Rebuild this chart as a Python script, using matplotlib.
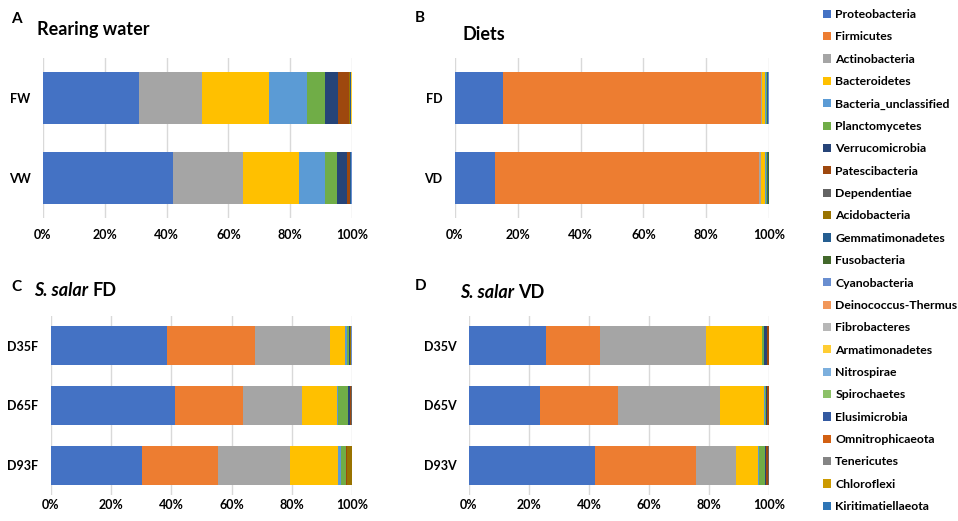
#!/usr/bin/env python3
"""Stacked phylum composition bars: rearing water, diets, S. salar FD/VD."""

import matplotlib
matplotlib.use('Agg')
import matplotlib.pyplot as plt
from matplotlib.patches import Patch

plt.rcParams['font.family'] = ['Lato', 'DejaVu Sans']
plt.rcParams['font.weight'] = 'bold'

phyla = ['Proteobacteria', 'Firmicutes', 'Actinobacteria', 'Bacteroidetes',
         'Bacteria_unclassified', 'Planctomycetes', 'Verrucomicrobia',
         'Patescibacteria', 'Dependentiae', 'Acidobacteria', 'Gemmatimonadetes',
         'Fusobacteria', 'Cyanobacteria', 'Deinococcus-Thermus', 'Fibrobacteres',
         'Armatimonadetes', 'Nitrospirae', 'Spirochaetes', 'Elusimicrobia',
         'Omnitrophicaeota', 'Tenericutes', 'Chloroflexi', 'Kiritimatiellaeota']

colors = ['#4472C4', '#ED7D31', '#A5A5A5', '#FFC000', '#5B9BD5', '#70AD47',
          '#264478', '#9E480E', '#636363', '#997300', '#255E91', '#43682B',
          '#698ED0', '#F1975A', '#B7B7B7', '#FFCD33', '#7CAFDD', '#8CC168',
          '#335AA1', '#D26012', '#848484', '#CC9A00', '#2E75B6']

# relative abundance (%) per sample, in the order of `phyla`
FW = [31.0, 0.0, 20.3, 21.9, 12.2, 6.0, 4.2, 3.4, 0.1, 0.1, 0.5, 0.0,
      0.1, 0.0, 0.0, 0.1, 0.0, 0.0, 0.0, 0.0, 0.0, 0.1, 0.0]
VW = [42.1, 0.0, 22.7, 18.2, 8.4, 3.7, 3.4, 0.8, 0.1, 0.1, 0.3, 0.0,
      0.1, 0.0, 0.0, 0.0, 0.0, 0.0, 0.0, 0.1, 0.0, 0.0, 0.0]
FD = [15.2, 82.1, 0.4, 1.1, 0.3, 0.2, 0.1, 0.0, 0.0, 0.0, 0.3, 0.1,
      0.1, 0.0, 0.0, 0.0, 0.0, 0.0, 0.0, 0.0, 0.0, 0.0, 0.1]
VD = [12.7, 84.2, 0.7, 1.2, 0.4, 0.2, 0.1, 0.0, 0.0, 0.0, 0.3, 0.1,
      0.1, 0.0, 0.0, 0.0, 0.0, 0.0, 0.0, 0.0, 0.0, 0.0, 0.0]
D35F = [38.5, 29.3, 24.9, 5.0, 0.6, 0.8, 0.2, 0.2, 0.0, 0.1, 0.1, 0.1,
        0.1, 0.1, 0.0, 0.1, 0.0, 0.0, 0.0, 0.0, 0.0, 0.0, 0.0]
D65F = [41.3, 22.5, 19.5, 11.8, 0.2, 3.5, 0.4, 0.6, 0.1, 0.1, 0.0, 0.0,
        0.0, 0.0, 0.0, 0.0, 0.0, 0.0, 0.0, 0.0, 0.0, 0.0, 0.0]
D93F = [30.3, 25.3, 23.8, 16.0, 0.9, 1.7, 0.1, 0.3, 0.1, 1.4, 0.1, 0.0,
        0.0, 0.0, 0.0, 0.0, 0.0, 0.0, 0.0, 0.0, 0.0, 0.0, 0.0]
D35V = [25.7, 18.1, 35.2, 18.6, 0.2, 0.5, 1.1, 0.5, 0.1, 0.0, 0.0, 0.0,
        0.0, 0.0, 0.0, 0.0, 0.0, 0.0, 0.0, 0.0, 0.0, 0.0, 0.0]
D65V = [23.8, 25.9, 34.1, 14.5, 0.2, 0.6, 0.2, 0.6, 0.1, 0.0, 0.0, 0.0,
        0.0, 0.0, 0.0, 0.0, 0.0, 0.0, 0.0, 0.0, 0.0, 0.0, 0.0]
D93V = [42.0, 33.8, 13.1, 7.3, 0.5, 2.1, 0.1, 0.9, 0.1, 0.1, 0.0, 0.0,
        0.0, 0.0, 0.0, 0.0, 0.0, 0.0, 0.0, 0.0, 0.0, 0.0, 0.0]

xticks = [0, 20, 40, 60, 80, 100]
xticklabels = ['0%', '20%', '40%', '60%', '80%', '100%']

W, H = 958, 521
fig = plt.figure(figsize=(W / 100, H / 100), dpi=100)


def px_axes(l, t, r, b):
    return fig.add_axes([l / W, 1 - b / H, (r - l) / W, (b - t) / H])


def stacked(ax, names, rows, xpad):
    for i, row in enumerate(rows):
        left = 0
        for v, c in zip(row, colors):
            if v > 0:
                ax.barh(i, v, left=left, height=0.65, color=c, linewidth=0)
            left += v
    ax.set_xlim(0, 100)
    ax.set_ylim(len(rows) - 0.5, -0.5)
    ax.set_yticks(range(len(rows)))
    ax.set_yticklabels(names, fontsize=9, fontweight='bold')
    ax.set_xticks(xticks)
    ax.set_xticklabels(xticklabels, fontsize=9, fontweight='bold')
    ax.tick_params(axis='y', length=0, pad=9)
    ax.tick_params(axis='x', length=0, pad=xpad)
    for s in ax.spines.values():
        s.set_visible(False)
    ax.grid(axis='x', color='#D9D9D9', linewidth=1)
    ax.set_axisbelow(True)


axA = px_axes(43, 58, 352, 218)
stacked(axA, ['FW', 'VW'], [FW, VW], 8)
axB = px_axes(455, 58, 769, 218)
stacked(axB, ['FD', 'VD'], [FD, VD], 8)
axC = px_axes(51, 316, 352, 495)
stacked(axC, ['D35F', 'D65F', 'D93F'], [D35F, D65F, D93F], 3)
axD = px_axes(469, 316, 769, 495)
stacked(axD, ['D35V', 'D65V', 'D93V'], [D35V, D65V, D93V], 3)


def ftext(x, y, s, **kw):
    return fig.text(x / W, 1 - y / H, s, va='center', ha='left',
                    fontweight='bold', **kw)


ftext(11, 19, 'A', fontsize=11)
ftext(37, 30, 'Rearing water', fontsize=13)
ftext(415, 18, 'B', fontsize=11)
ftext(463, 35, 'Diets', fontsize=13)
ftext(11, 287, 'C', fontsize=11)
ftext(415, 286, 'D', fontsize=11)

# italic species name followed by upright diet code
renderer = fig.canvas.get_renderer()
for x0, y0, code in [(34, 290, 'FD'), (460, 293, 'VD')]:
    t = ftext(x0, y0, 'S. salar', fontsize=13, style='italic')
    bb = t.get_window_extent(renderer)
    ftext(bb.x1 + 4, y0, code, fontsize=13)

handles = [Patch(facecolor=c, edgecolor='none', label=p)
           for p, c in zip(phyla, colors)]
fig.legend(handles=handles, loc='upper left', bbox_to_anchor=(823 / W, 1 - 9 / H),
           frameon=False, labelspacing=0.93, handlelength=0.65,
           handleheight=0.65, handletextpad=0.35, borderpad=0, borderaxespad=0,
           prop={'weight': 'bold', 'size': 8.8})

fig.savefig('out.png', dpi=100)
